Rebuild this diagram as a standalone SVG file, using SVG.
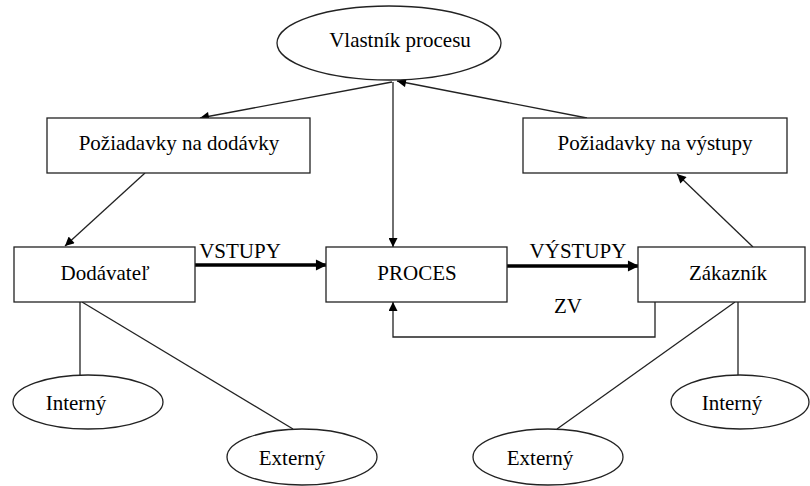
<svg xmlns="http://www.w3.org/2000/svg" width="810" height="486" viewBox="0 0 810 486">
<style>
.box{fill:#fff;stroke:#222;stroke-width:1.3}
.ln{fill:none;stroke:#222;stroke-width:1.3}
.thick{fill:none;stroke:#000;stroke-width:3.5}
text{font-family:"Liberation Serif","Times New Roman",serif;font-size:21px;fill:#000;text-anchor:middle}
</style>
<defs>
<marker id="ah" viewBox="0 0 10 10" refX="10" refY="5" markerWidth="11" markerHeight="9" markerUnits="userSpaceOnUse" orient="auto"><path d="M0,0 L10,5 L0,10 z" fill="#000"/></marker>
<marker id="ahT" viewBox="0 0 10 10" refX="9" refY="5" markerWidth="4" markerHeight="3.2" orient="auto"><path d="M0,0 L10,5 L0,10 z" fill="#000"/></marker>
</defs>
<g id="connectors">
<line class="ln" x1="392" y1="82" x2="200" y2="118" marker-end="url(#ah)"/>
<line class="ln" x1="587" y1="118" x2="397" y2="81" marker-end="url(#ah)"/>
<line class="ln" x1="393" y1="82" x2="393" y2="247" marker-end="url(#ah)"/>
<line class="ln" x1="145" y1="173" x2="65" y2="246" marker-end="url(#ah)"/>
<line class="ln" x1="753" y1="247" x2="677" y2="174" marker-end="url(#ah)"/>
<line class="thick" x1="195" y1="265" x2="326" y2="265" marker-end="url(#ahT)"/>
<line class="thick" x1="507" y1="266" x2="638" y2="266" marker-end="url(#ahT)"/>
<polyline class="ln" points="655,302 655,337 393,337 393,302" marker-end="url(#ah)"/>
<line class="ln" x1="80" y1="302" x2="80" y2="375"/>
<line class="ln" x1="82" y1="302" x2="293" y2="429"/>
<line class="ln" x1="738" y1="302" x2="738" y2="375"/>
<line class="ln" x1="735" y1="302" x2="557" y2="429"/>
<text x="240" y="258">VSTUPY</text>
<text x="578" y="258">VÝSTUPY</text>
<text x="568" y="313">ZV</text>
</g>
<g id="vlastnik">
<ellipse class="box" cx="389" cy="43" rx="112" ry="37"/>
<text x="400" y="47">Vlastník procesu</text>
</g>
<g id="poz-dodavky">
<rect class="box" x="47" y="118" width="263" height="55"/>
<text x="179" y="150">Požiadavky na dodávky</text>
</g>
<g id="poz-vystupy">
<rect class="box" x="523" y="118" width="264" height="55"/>
<text x="655" y="150">Požiadavky na výstupy</text>
</g>
<g id="dodavatel">
<rect class="box" x="14" y="247" width="181" height="55"/>
<text x="105" y="280">Dodávateľ</text>
</g>
<g id="proces">
<rect class="box" x="326" y="247" width="181" height="55"/>
<text x="417" y="280">PROCES</text>
</g>
<g id="zakaznik">
<rect class="box" x="638" y="247" width="167" height="55"/>
<text x="728" y="280">Zákazník</text>
</g>
<g id="interny-l">
<ellipse class="box" cx="88" cy="402" rx="75" ry="27"/>
<text x="76" y="410">Interný</text>
</g>
<g id="externy-l">
<ellipse class="box" cx="302" cy="457" rx="75" ry="28"/>
<text x="292" y="465">Externý</text>
</g>
<g id="interny-r">
<ellipse class="box" cx="740" cy="402" rx="69" ry="27"/>
<text x="732" y="410">Interný</text>
</g>
<g id="externy-r">
<ellipse class="box" cx="548" cy="457" rx="75" ry="28"/>
<text x="540" y="465">Externý</text>
</g>
</svg>
